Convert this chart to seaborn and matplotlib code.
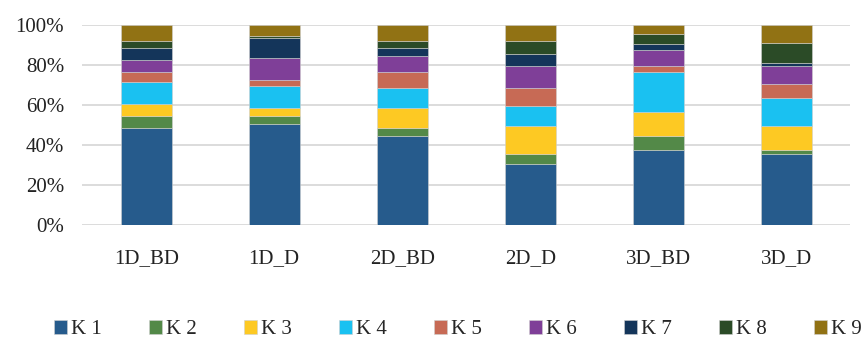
import pandas as pd
import matplotlib
matplotlib.use('Agg')
import matplotlib.pyplot as plt
import seaborn as sns
from matplotlib.ticker import PercentFormatter

sns.set_style('white')
plt.rcParams['font.family'] = ['Liberation Serif', 'DejaVu Serif']

# data (percent shares)
groups = ['1D_BD', '1D_D', '2D_BD', '2D_D', '3D_BD', '3D_D']
series = ['K 1', 'K 2', 'K 3', 'K 4', 'K 5', 'K 6', 'K 7', 'K 8', 'K 9']
k1 = [48.5, 50.5, 44.5, 30.6, 37.6, 35.6]
k2 = [5.9, 3.9, 4.0, 4.8, 6.8, 1.8]
k3 = [5.9, 4.1, 10.0, 14.1, 12.1, 12.1]
k4 = [11.0, 10.8, 9.8, 9.9, 19.7, 13.8]
k5 = [4.9, 3.0, 7.9, 8.9, 3.1, 7.0]
k6 = [6.1, 10.8, 7.9, 10.9, 7.8, 8.9]
k7 = [5.8, 10.0, 4.0, 5.9, 3.0, 1.9]
k8 = [3.8, 1.2, 3.8, 6.8, 5.0, 9.8]
k9 = [8.1, 5.7, 8.1, 8.1, 4.9, 9.1]
colors = ['#265B8C', '#538948', '#FDC923', '#1AC1F1', '#C76A55',
          '#7F3F98', '#14355A', '#2B4B27', '#917214']

df = pd.DataFrame(dict(zip(series, [k1, k2, k3, k4, k5, k6, k7, k8, k9])), index=groups)

fig = plt.figure(figsize=(8.65, 3.42), dpi=100)
ax = fig.add_axes([0.095, 0.342, 0.888, 0.586])

bottom = pd.Series(0.0, index=groups)
for s, c in zip(series, colors):
    sns.barplot(x=groups, y=df[s].values, bottom=bottom.values, color=c,
                saturation=1, width=0.4, edgecolor='#d0d0d0', linewidth=0.4,
                ax=ax, label=s)
    bottom += df[s]

ax.set_ylim(0, 100)
ax.set_yticks(range(0, 101, 20))
ax.yaxis.set_major_formatter(PercentFormatter(decimals=0))
ax.yaxis.grid(True, color='#d9d9d9', linewidth=1.3)
ax.set_axisbelow(True)
sns.despine(ax=ax, left=True, top=True, right=True, bottom=True)
ax.tick_params(axis='both', length=0, labelsize=15, colors='#222222')
ax.tick_params(axis='x', pad=17)
ax.tick_params(axis='y', pad=13)
ax.set_xlabel('')
ax.set_ylabel('')

handles, labels = ax.get_legend_handles_labels()
if ax.legend_:
    ax.legend_.remove()
# the reference legend runs past the right edge, last label is clipped there too
fig.legend(handles, labels, ncol=9, loc='center left', bbox_to_anchor=(54 / 865, 0.036),
           frameon=False, fontsize=15, handlelength=0.62, handleheight=0.62,
           handletextpad=0.2, columnspacing=2.26, borderaxespad=0, borderpad=0)

fig.savefig('out.png', dpi=100)
